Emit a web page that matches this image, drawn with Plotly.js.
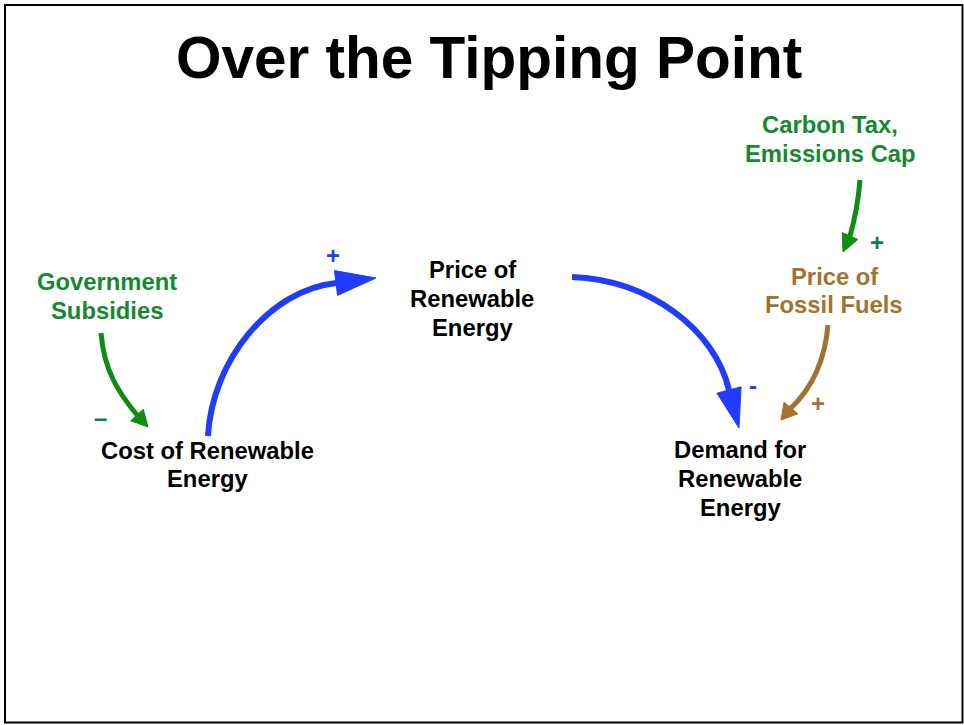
<!DOCTYPE html>
<html>
<head>
<meta charset="utf-8">
<script src="https://cdn.plot.ly/plotly-3.0.1.min.js"></script>
<style>html,body{margin:0;padding:0;background:#fff}#chart{width:964px;height:725px}</style>
</head>
<body>
<div id="chart"></div>
<script>
// ---- Diagram content ----
var chartTitle = "Over the Tipping Point";

var nodeLabels = [
  "Cost of Renewable<br>Energy",
  "Price of<br>Renewable<br>Energy",
  "Demand for<br>Renewable<br>Energy",
  "Government<br>Subsidies",
  "Carbon Tax,<br>Emissions Cap",
  "Price of<br>Fossil Fuels"
];
var nodeX = [207, 472, 740, 107, 830, 834];
var nodeY = [464.5, 298.5, 478.5, 296, 139, 290.5];
var nodeKind = ["core", "core", "core", "policy", "policy", "fossil"];

// causal links: start, control1, control2, end of shaft, arrow tip
var linkKind  = ["core", "core", "fossil", "policy", "policy"];
var linkStart = [[208, 436], [572, 277], [828, 325], [101, 333], [860, 180]];
var linkC1    = [[212, 360], [650, 280], [825, 360], [104, 370], [858, 205]];
var linkC2    = [[270, 290], [715, 330], [812, 388], [118, 392], [854, 222]];
var linkEnd   = [[336, 283], [729, 390], [791, 408], [137, 415], [850, 236]];
var linkTip   = [[376, 278], [739, 428], [781, 420], [148, 427], [843, 252]];
var linkSign  = ["+", "-", "+", "\u2013", "+"];
var signX     = [333, 753, 818, 100, 877];
var signY     = [255, 385, 403, 417, 242];
var signKind  = ["core", "core", "fossil", "teal", "teal"];

// ---- Styles ----
var textColor = {core: "#000000", policy: "#15892f", fossil: "#a2732f"};
var lineColor = {core: "#1f3cff", policy: "#0f8c12", fossil: "#a2732f"};
var lineWidth = {core: 6, policy: 5, fossil: 5};
var headHalf  = {core: 12.5, policy: 8.5, fossil: 9};
var signColor = {core: "#1f3cff", teal: "#137a5c", fossil: "#a2732f"};
var FONT = "Liberation Sans";
var LINE_GAP = 28.7;

var shapes = [];
var annotations = [];

// border
shapes.push({type: "rect", xref: "x", yref: "y", x0: 5, y0: 5, x1: 962.5, y1: 722.5,
  line: {color: "#000", width: 2}, fillcolor: "rgba(0,0,0,0)", layer: "above"});

for (var i = 0; i < linkStart.length; i++) {
  var k = linkKind[i];
  var s = linkStart[i], c1 = linkC1[i], c2 = linkC2[i], e = linkEnd[i], t = linkTip[i];
  shapes.push({
    type: "path", xref: "x", yref: "y",
    path: "M" + s[0] + "," + s[1] + " C" + c1[0] + "," + c1[1] + " " + c2[0] + "," + c2[1] + " " + e[0] + "," + e[1],
    line: {color: lineColor[k], width: lineWidth[k]}
  });
  var dx = t[0] - e[0], dy = t[1] - e[1];
  var len = Math.sqrt(dx * dx + dy * dy);
  var px = -dy / len * headHalf[k], py = dx / len * headHalf[k];
  shapes.push({
    type: "path", xref: "x", yref: "y",
    path: "M" + t[0] + "," + t[1] + " L" + (e[0] + px) + "," + (e[1] + py) + " L" + (e[0] - px) + "," + (e[1] - py) + " Z",
    fillcolor: lineColor[k], line: {color: lineColor[k], width: 1}
  });
  annotations.push({
    x: signX[i], y: signY[i], xref: "x", yref: "y", text: "<b>" + linkSign[i] + "</b>",
    showarrow: false, xanchor: "center", yanchor: "middle",
    font: {family: FONT, size: 24, color: signColor[signKind[i]]}
  });
}

for (var j = 0; j < nodeLabels.length; j++) {
  var lines = nodeLabels[j].split("<br>");
  var y0 = nodeY[j] - (lines.length - 1) * LINE_GAP / 2;
  for (var m = 0; m < lines.length; m++) {
    annotations.push({
      x: nodeX[j], y: y0 + m * LINE_GAP, xref: "x", yref: "y", text: "<b>" + lines[m] + "</b>",
      showarrow: false, xanchor: "center", yanchor: "middle", align: "center",
      font: {family: FONT, size: 23.8, color: textColor[nodeKind[j]]}
    });
  }
}

annotations.push({
  x: 488.5, y: 57, xref: "x", yref: "y", text: "<b>" + chartTitle + "</b>",
  showarrow: false, xanchor: "center", yanchor: "middle",
  font: {family: FONT, size: 58.5, color: "#000"}
});

var layout = {
  width: 964, height: 725,
  margin: {l: 0, r: 0, t: 0, b: 0},
  paper_bgcolor: "#fff", plot_bgcolor: "#fff",
  showlegend: false,
  xaxis: {range: [0, 964], visible: false, fixedrange: true},
  yaxis: {range: [725, 0], visible: false, fixedrange: true},
  shapes: shapes,
  annotations: annotations
};

Plotly.newPlot("chart", [{x: [], y: [], type: "scatter", mode: "markers", hoverinfo: "skip"}], layout,
  {displayModeBar: false, staticPlot: true});
</script>
</body>
</html>
